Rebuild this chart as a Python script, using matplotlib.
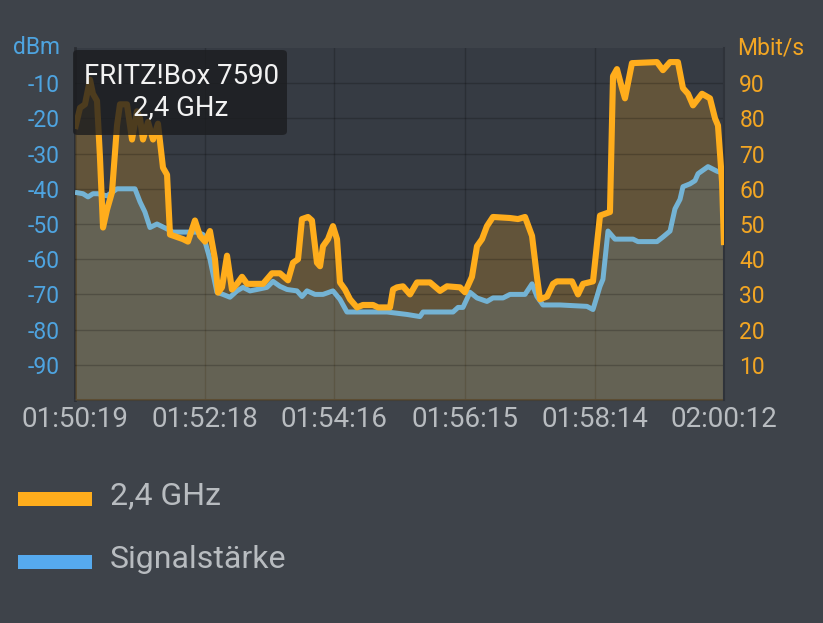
import matplotlib
matplotlib.use("Agg")
import matplotlib.pyplot as plt
from matplotlib.patches import Rectangle, FancyBboxPatch

plt.rcParams['font.family'] = ['Roboto', 'DejaVu Sans']

# ---- data ----
series_names = ["2,4 GHz", "Signalstärke"]
tooltip_lines = ["FRITZ!Box 7590", "2,4 GHz"]

# 2,4 GHz throughput (Mbit/s), time in seconds since 01:50:19
rate_t = [0, 4.6, 9.1, 13.7, 16.4, 20.1, 22.8, 25.6, 29.2, 33.8, 38.4, 41.1, 47.5, 52.1,
          56.6, 59.4, 62.1, 66.7, 71.3, 75.8, 80.4, 84.1, 86.8, 98.7, 103.2, 109.6, 114.2,
          118.8, 123.3, 127.9, 130.7, 134.3, 138.9, 143.4, 148.0, 152.6, 157.2, 171.8,
          180.0, 187.3, 194.6, 199.2, 203.8, 207.4, 212.9, 216.5, 221.1, 223.9, 226.6,
          231.2, 235.7, 239.4, 242.1, 246.7, 251.3, 257.7, 263.1, 272.3, 276.9, 287.8,
          290.6, 294.2, 299.7, 306.1, 312.5, 324.4, 333.5, 339.9, 351.8, 356.3, 362.7,
          367.3, 371.9, 376.4, 381.9, 397.5, 404.8, 411.2, 417.6, 422.1, 424.9, 431.3,
          436.8, 440.4, 454.1, 459.6, 464.2, 473.3, 479.7, 488.8, 491.6, 495.2, 499.8,
          502.5, 508.9, 531.8, 537.2, 543.7, 550.9, 555.5, 560.1, 564.7, 572.9, 580.2,
          584.8, 587.5, 591.2, 593.0]
rate_v = [77, 83, 84, 91, 87, 85, 69, 49, 54, 59, 78, 84, 84, 74,
          82, 80, 74, 79, 74, 78.5, 66, 64, 47, 45.7, 45, 51, 46.6,
          45, 48, 40, 30.5, 32, 41, 31.4, 33, 35, 33, 33,
          36, 36, 34, 39, 40, 51.4, 52, 51, 39, 38, 43.7,
          45.7, 49.4, 45.7, 33.4, 31.4, 28.6, 26.3, 27, 27, 26.3, 26.3,
          31.4, 32, 32.3, 30, 33.4, 33.4, 31, 32.3, 32, 30.6, 35,
          43.7, 45.7, 49.4, 52, 51.7, 51.4, 52, 46.6, 35, 28.6, 29.4,
          33, 33.7, 33.7, 30, 33, 33.7, 52.4, 53.4, 92, 94, 88.6,
          85.7, 95.7, 96, 93.7, 96, 96, 88.6, 87, 83.7, 87, 85.7,
          80, 78, 62, 44]

# Signal strength (dBm)
sig_t = [0, 7.3, 11.9, 16.4, 21.0, 29.2, 33.8, 38.4, 54.8, 59.4, 63.9, 68.5, 74.9, 84.1,
         89.5, 111.5, 117.0, 120.6, 123.3, 129.7, 135.2, 141.6, 148.0, 153.5, 159.9,
         166.3, 175.4, 180.9, 187.3, 193.7, 202.8, 207.4, 212.0, 219.3, 226.6, 235.7,
         242.1, 248.5, 263.1, 285.1, 303.4, 315.2, 318.0, 345.4, 350.0, 354.5, 360.9,
         367.3, 376.4, 381.9, 391.1, 397.5, 411.2, 417.6, 422.1, 427.6, 443.2, 467.8,
         473.3, 479.7, 482.4, 487.0, 493.4, 509.9, 514.4, 531.8, 537.2, 543.7, 548.2,
         552.8, 555.5, 561.9, 566.5, 569.3, 578.4, 586.6, 593.0]
sig_v = [-41, -41.4, -42.3, -41.4, -41.4, -42, -41, -40, -40, -43.7, -46.6, -51, -50, -51.4,
         -52.3, -52.3, -53, -57, -60, -69.4, -70, -70.8, -69, -68, -69,
         -68.6, -68, -66.3, -67.7, -68.6, -69, -70.6, -69, -70, -70, -69,
         -71.4, -75, -75, -75, -75.7, -76.3, -75, -75, -73.7, -73.7, -69.4,
         -71, -72, -71, -71, -70, -70, -67, -70.6, -73, -73, -73.4,
         -74.3, -67.7, -65.7, -52, -54.3, -54.3, -55, -55, -53.7, -52, -45.7,
         -43, -39.4, -38.6, -37.7, -35.7, -33.7, -35, -35.7]

x_ticks = [0, 119, 237, 356, 475, 593]
x_labels = ["01:50:19", "01:52:18", "01:54:16", "01:56:15", "01:58:14", "02:00:12"]
dbm_ticks = [-90, -80, -70, -60, -50, -40, -30, -20, -10]
mbit_ticks = [10, 20, 30, 40, 50, 60, 70, 80, 90]

# ---- style ----
FIG_BG = "#3e434a"
PLOT_BG = "#363b43"
ORANGE = "#ffad1c"
BLUE_LINE = "#74b3d4"
BLUE_LEG = "#56aaee"
BLUE_TXT = "#4ea4e0"
ORANGE_TXT = "#f3a623"
GRAY_TXT = "#b8bcc0"

W, H = 823, 623
fig = plt.figure(figsize=(W / 100, H / 100), dpi=100, facecolor=FIG_BG)
L, R, T, B = 75, 724, 48, 400
ax = fig.add_axes([L / W, 1 - B / H, (R - L) / W, (B - T) / H])
ax.set_facecolor(PLOT_BG)
ax.set_xlim(0, 593)
ax.set_ylim(-100, 0)
ax.set_xticks(x_ticks)
ax.set_yticks(dbm_ticks)

ax2 = ax.twinx()
ax2.set_ylim(0, 100)
ax2.set_yticks(mbit_ticks)

# grid: vertical on base axes, horizontal on the twin (above fills, below lines)
ax.set_axisbelow("line")
ax.grid(True, axis="x", color="black", alpha=0.2, linewidth=1.0)
ax2.set_axisbelow("line")
ax2.grid(True, axis="y", color="black", alpha=0.2, linewidth=1.0)

# blue fill (signal strength, dBm axis)
ax.fill_between(sig_t, sig_v, -100, color="#4896e6", alpha=0.21, linewidth=0, zorder=1)

# orange fill
ax2.fill_between(rate_t, rate_v, 0, color=ORANGE, alpha=0.22, linewidth=0, zorder=1)
# blue line drawn with dBm scale, above the orange fill
ax2.plot(sig_t, sig_v, transform=ax.transData, color=BLUE_LINE, linewidth=3.6,
         solid_joinstyle="round", solid_capstyle="butt", zorder=2)
# orange line
ax2.plot(rate_t, rate_v, color=ORANGE, linewidth=4.4, solid_joinstyle="round",
         solid_capstyle="butt", zorder=3)

for a in (ax, ax2):
    for s in a.spines.values():
        s.set_visible(False)
ax.spines["left"].set_visible(True)
ax.spines["left"].set_color("#2a2d33")
ax.spines["left"].set_linewidth(2)
ax.spines["bottom"].set_visible(True)
ax.spines["bottom"].set_color("#2f333a")
ax.spines["bottom"].set_linewidth(1.5)
ax2.spines["right"].set_visible(True)
ax2.spines["right"].set_color("#2f333a")
ax2.spines["right"].set_linewidth(1.5)

ax.set_xticklabels(x_labels)
ax.set_yticklabels([str(v) for v in dbm_ticks])
ax2.set_yticklabels([str(v) for v in mbit_ticks])

ax.tick_params(axis="x", length=0, pad=4, labelsize=20, labelcolor=GRAY_TXT)
ax.tick_params(axis="y", length=0, pad=11, labelsize=16.5, labelcolor=BLUE_TXT)
ax2.tick_params(axis="y", length=0, pad=11, labelsize=16.5, labelcolor=ORANGE_TXT)

# axis unit labels
fig.text(60 / W, 1 - 48 / H, "dBm", color=BLUE_TXT, fontsize=16.5, ha="right", va="center")
fig.text(737 / W, 1 - 48 / H, "Mbit/s", color=ORANGE_TXT, fontsize=16.5, ha="left", va="center")

# tooltip
bx0, by0, bx1, by1 = 73, 50, 287, 135
box = FancyBboxPatch((bx0 / W, 1 - by1 / H), (bx1 - bx0) / W, (by1 - by0) / H,
                     boxstyle="round,pad=0,rounding_size=0.006",
                     transform=fig.transFigure, facecolor="#1b1c1f", alpha=0.78,
                     edgecolor="none", zorder=10)
fig.add_artist(box)
fig.text(181 / W, 1 - 77 / H, tooltip_lines[0], color="#f2f2f2", fontsize=19.8,
         ha="center", va="center", zorder=11)
fig.text(181 / W, 1 - 108 / H, tooltip_lines[1], color="#f2f2f2", fontsize=19.8,
         ha="center", va="center", zorder=11)

# legend
leg_items = [(ORANGE, 492, series_names[0]), (BLUE_LEG, 555, series_names[1])]
for col, ytop, name in leg_items:
    fig.add_artist(Rectangle((18 / W, 1 - (ytop + 14) / H), 74 / W, 14 / H,
                             transform=fig.transFigure, facecolor=col, edgecolor="none"))
    fig.text(110 / W, 1 - (ytop + 4) / H, name, color=GRAY_TXT, fontsize=23,
             ha="left", va="center")

fig.savefig("out.png", dpi=100, facecolor=FIG_BG)
